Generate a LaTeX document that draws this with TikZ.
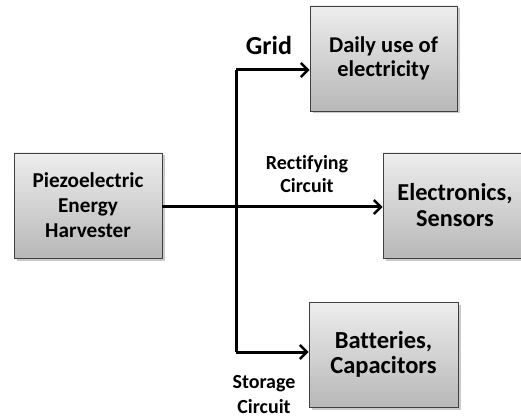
\documentclass[tikz,border=0pt]{standalone}
\usepackage{fontspec}
\setmainfont{Carlito}[Ligatures=NoCommon]
\usetikzlibrary{arrows.meta,shadows,calc}
\begin{document}
\begin{tikzpicture}[x=1pt,y=-1pt,
  box/.style={draw=black!75, line width=0.8pt, top color=black!7, bottom color=black!28,
    drop shadow={shadow xshift=2.5pt, shadow yshift=-2.5pt, opacity=0.35, fill=black!60},
    align=center, inner sep=0pt},
  arr/.style={line width=3pt, -{Straight Barb[length=7pt,width=14pt,line width=2.5pt]}},
  conn/.style={line width=3pt},
  lbl/.style={align=center, inner sep=0pt}]
\useasboundingbox (0,0) rectangle (521,419);
\clip (0,0) rectangle (521,419);
\node[box, minimum width=148pt, minimum height=105pt, font=\bfseries\fontsize{21.2}{25}\selectfont] (piezo) at (88,205.5) {Piezoelectric\\Energy\\Harvester};
\node[box, minimum width=147pt, minimum height=105pt, font=\bfseries\fontsize{22.5}{24}\selectfont] (daily) at (383.5,58.5) {Daily use of\\electricity};
\node[box, minimum width=144pt, minimum height=105pt, font=\bfseries\fontsize{24.3}{26}\selectfont] (elec) at (455,205.5) {Electronics,\\Sensors};
\node[box, minimum width=149pt, minimum height=105pt, font=\bfseries\fontsize{24.5}{25}\selectfont] (batt) at (383.5,354.5) {Batteries,\\Capacitors};
\coordinate (vt) at (236,70);
\coordinate (vb) at (236,352);
\draw[arr] (piezo.east |- 0,207) -- (elec.west |- 0,207);
\draw[conn] (vb) -- (vt);
\draw[arr] (vt) -- (vt -| daily.west);
\draw[arr] (vb) -- (vb -| batt.west);
\node[lbl, font=\bfseries\fontsize{26}{28}\selectfont] (grid) at (269,45) {Grid};
\node[lbl, font=\bfseries\fontsize{20}{23}\selectfont] (rect) at (307,174) {Rectifying\\Circuit};
\node[lbl, font=\bfseries\fontsize{20}{25}\selectfont] (stor) at (264,395) {Storage\\Circuit};
\end{tikzpicture}
\end{document}
